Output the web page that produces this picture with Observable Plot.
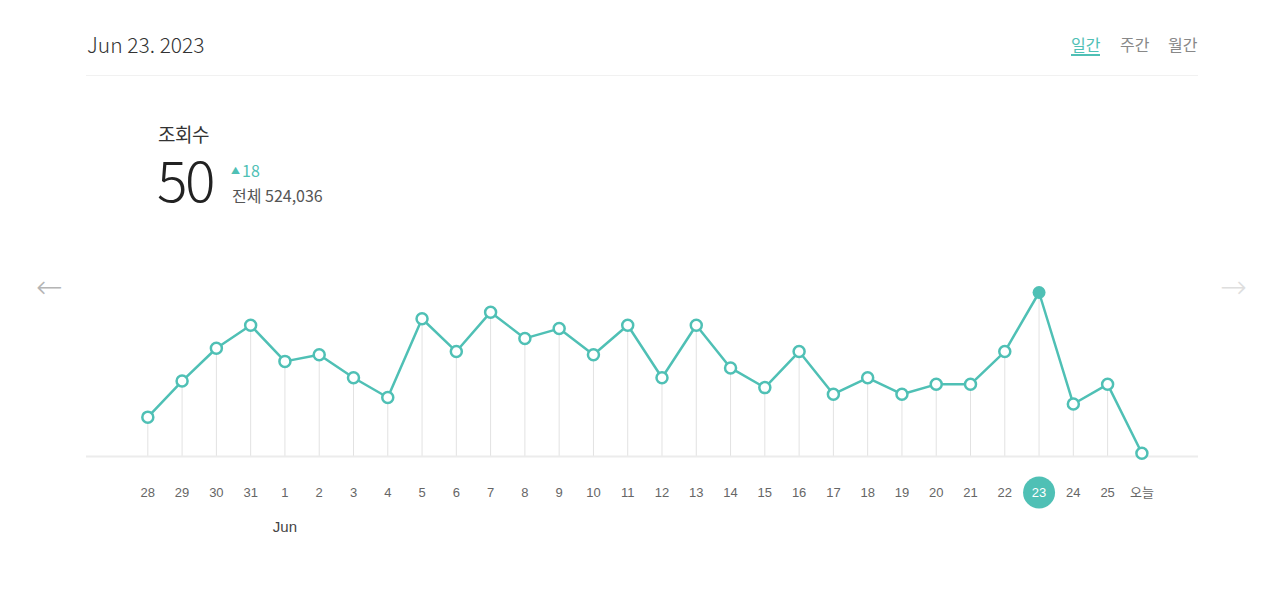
<!DOCTYPE html>
<html>
<head>
<meta charset="utf-8">
<script src="https://cdn.jsdelivr.net/npm/d3@7"></script>
<script src="https://cdn.jsdelivr.net/npm/@observablehq/plot@0.6"></script>
<style>
  @font-face { font-family: "BigNum"; src: local("Noto Sans CJK KR Light"), local("NotoSansCJKkr-Light"); font-weight: 300; ascent-override: 85%; descent-override: 15%; line-gap-override: 0%; }
  @font-face { font-family: "TightKR"; src: local("Noto Sans CJK KR Regular"), local("NotoSansCJKkr-Regular"), local("Noto Sans CJK KR"); font-weight: 400; ascent-override: 90%; descent-override: 10%; line-gap-override: 0%; }
  html, body { margin: 0; padding: 0; background: #fff; }
  #wrap { position: relative; width: 1280px; height: 589px; overflow: hidden; font-family: "Noto Sans CJK KR", "Noto Sans", sans-serif; }
  .abs { position: absolute; white-space: nowrap; line-height: 1; }
  #date { left: 87px; top: 34px; font-size: 21px; font-weight: 300; color: #333; }
  #hline { position: absolute; left: 86px; top: 75px; width: 1112px; height: 1px; background: #f1f1f1; }
  .tab { top: 36px; font-size: 16px; color: #888; }
  #t1 { left: 1071px; color: #4fc0b5; border-bottom: 2px solid #4fc0b5; padding-bottom: 2px; }
  #t2 { left: 1120px; }
  #t3 { left: 1168px; }
  #metric { left: 158px; top: 124.5px; font-size: 19px; color: #333; font-family: "TightKR", "Noto Sans CJK KR", sans-serif; }
  #big { left: 157px; top: 153.5px; font-size: 57px; font-weight: 300; color: #222; letter-spacing: -2px; font-family: "BigNum", "Noto Sans CJK KR", sans-serif; }
  #delta { left: 231px; top: 162px; font-size: 16px; color: #4fc0b5; }
  #delta span { font-size: 9px; vertical-align: 3px; margin-right: 2px; }
  #total { left: 232px; top: 187px; font-size: 16px; color: #555; }
  .arrow { top: 271px; font-size: 32px; font-weight: 200; font-family: "DejaVu Sans", sans-serif; }
  #la { left: 36px; color: #b5b5b5; }
  #ra { left: 1220px; color: #dedede; }
  #chart { position: absolute; left: 0; top: 240px; }
</style>
</head>
<body>
<div id="wrap">
  <div class="abs" id="date">Jun 23. 2023</div>
  <div id="hline"></div>
  <div class="abs tab" id="t1">일간</div>
  <div class="abs tab" id="t2">주간</div>
  <div class="abs tab" id="t3">월간</div>
  <div class="abs" id="metric">조회수</div>
  <div class="abs" id="big">50</div>
  <div class="abs" id="delta"><span>▲</span>18</div>
  <div class="abs" id="total">전체 524,036</div>
  <div class="abs arrow" id="la">←</div>
  <div class="abs arrow" id="ra">→</div>
  <div id="chart"></div>
</div>
<script>
const days = ["28","29","30","31","1","2","3","4","5","6","7","8","9","10","11","12","13","14","15","16","17","18","19","20","21","22","23","24","25","오늘"];
const views = [12,23,33,40,29,31,24,18,42,32,44,36,39,31,40,24,40,27,21,32,19,24,19,22,22,32,50,16,22,1];
const selectedDay = "23";
const monthLabel = "Jun";
const monthAtDay = "1";

const teal = "#4fc0b5";
const data = days.map((d, i) => ({day: d, v: views[i]}));
const sel = data.filter(d => d.day === selectedDay);
const others = data.filter(d => d.day !== selectedDay);

const chart = Plot.plot({
  width: 1280,
  height: 310,
  marginLeft: 86,
  marginRight: 82,
  marginTop: 10,
  marginBottom: 94,
  style: {fontFamily: "'Liberation Sans', Arial, 'Noto Sans CJK KR', sans-serif", fontSize: "13px", background: "transparent"},
  x: {type: "point", domain: days, padding: 1.72, align: 0.52, round: false, axis: null},
  y: {domain: [0, 50], range: [216, 52], axis: null},
  marks: [
    Plot.ruleX(data, {x: "day", y1: 0, y2: "v", stroke: "#e2e2e2", strokeWidth: 1}),
    Plot.ruleY([0], {stroke: "#ececec", strokeWidth: 2}),
    Plot.line(data, {x: "day", y: "v", stroke: teal, strokeWidth: 2.5}),
    Plot.dot(others, {x: "day", y: "v", r: 5.5, fill: "white", stroke: teal, strokeWidth: 2.5}),
    Plot.dot(sel, {x: "day", y: "v", r: 6.5, fill: teal, stroke: "none"}),
    Plot.dot(sel, {x: "day", frameAnchor: "bottom", dy: 36, r: 16, fill: teal, stroke: "none"}),
    Plot.text(data, {x: "day", frameAnchor: "bottom", dy: 40, text: "day", fill: d => d.day === selectedDay ? "white" : "#666", fontSize: 13}),
    Plot.text([monthLabel], {x: () => monthAtDay, frameAnchor: "bottom", dy: 75, text: d => d, fill: "#444", fontSize: 15})
  ]
});
document.getElementById("chart").appendChild(chart);
</script>
</body>
</html>
